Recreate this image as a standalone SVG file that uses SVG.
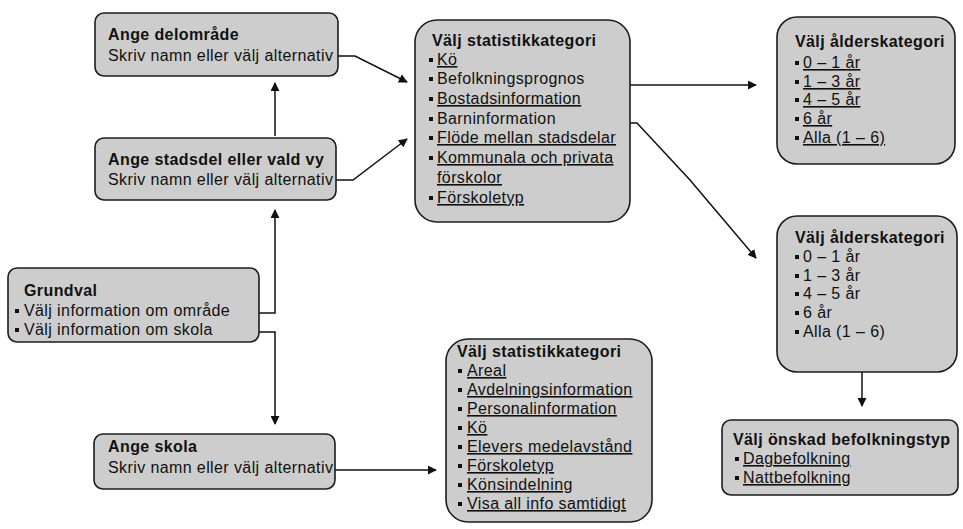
<svg xmlns="http://www.w3.org/2000/svg" xmlns:xlink="http://www.w3.org/1999/xlink" width="963" height="529" viewBox="0 0 963 529">
  <style>
    .box { fill: #cdcdcd; stroke: #1c1c1c; stroke-width: 1.6; }
    text { font-family: "Liberation Sans", Arial, sans-serif; font-size: 16px; fill: #111; letter-spacing: 0.4px; }
    .h { font-weight: bold; }
    .u { text-decoration: underline; }
    .conn { fill: none; stroke: #111; stroke-width: 1.5; marker-end: url(#arrow); }
  </style>
  <defs>
    <marker id="arrow" viewBox="0 0 10 10" refX="9" refY="5" markerWidth="9" markerHeight="9" markerUnits="userSpaceOnUse" orient="auto">
      <path d="M0,0 L10,5 L0,10 z" fill="#111"/>
    </marker>
    <rect id="bl" width="4" height="4" fill="#111"/>
  </defs>

  <rect width="963" height="529" fill="#ffffff"/>

  <!-- connectors -->
  <g id="connectors">
    <polyline class="conn" points="333,56 355,56 407,82"/>
    <polyline class="conn" points="333,180 353,180 407,139"/>
    <polyline class="conn" points="275,136 275,83"/>
    <polyline class="conn" points="252,313 275,313 275,210"/>
    <polyline class="conn" points="252,332 275,332 275,424"/>
    <polyline class="conn" points="332,470 436,470"/>
    <polyline class="conn" points="606,85 756,85"/>
    <polyline class="conn" points="606,123 637,123 690,180 756,258"/>
    <polyline class="conn" points="862,372 862,406"/>
  </g>

  <!-- area sub-district -->
  <g id="ange-delomrade">
    <rect class="box" x="95" y="13" width="243" height="63" rx="9"/>
    <text class="h" x="108" y="40">Ange delområde</text>
    <text x="108" y="61">Skriv namn eller välj alternativ</text>
  </g>

  <!-- city district / view -->
  <g id="ange-stadsdel">
    <rect class="box" x="95" y="138" width="241" height="62" rx="9"/>
    <text class="h" x="108" y="165">Ange stadsdel eller vald vy</text>
    <text x="108" y="185">Skriv namn eller välj alternativ</text>
  </g>

  <!-- basic choice -->
  <g id="grundval">
    <rect class="box" x="8" y="268" width="251" height="74" rx="9"/>
    <text class="h" x="24" y="296">Grundval</text>
    <use href="#bl" x="15" y="309"/>
    <text x="24" y="316">Välj information om område</text>
    <use href="#bl" x="15" y="328"/>
    <text x="24" y="335">Välj information om skola</text>
  </g>

  <!-- school -->
  <g id="ange-skola">
    <rect class="box" x="94" y="434" width="241" height="55" rx="9"/>
    <text class="h" x="108" y="452">Ange skola</text>
    <text x="108" y="473">Skriv namn eller välj alternativ</text>
  </g>

  <!-- statistics categories for areas -->
  <g id="statistik-omrade">
    <rect class="box" x="415" y="20" width="215" height="202" rx="22"/>
    <text class="h" x="432" y="46">Välj statistikkategori</text>
    <use href="#bl" x="429" y="58"/>
    <text class="u" x="437" y="65">Kö</text>
    <use href="#bl" x="429" y="77"/>
    <text x="437" y="84">Befolkningsprognos</text>
    <use href="#bl" x="429" y="97"/>
    <text class="u" x="437" y="104">Bostadsinformation</text>
    <use href="#bl" x="429" y="117"/>
    <text x="437" y="124">Barninformation</text>
    <use href="#bl" x="429" y="136"/>
    <text class="u" x="437" y="143">Flöde mellan stadsdelar</text>
    <use href="#bl" x="429" y="156"/>
    <text class="u" x="437" y="163">Kommunala och privata</text>
    <text class="u" x="437" y="183">förskolor</text>
    <use href="#bl" x="429" y="196"/>
    <text class="u" x="437" y="203">Förskoletyp</text>
  </g>

  <!-- statistics categories for schools -->
  <g id="statistik-skola">
    <rect class="box" x="446" y="339" width="206" height="183" rx="22"/>
    <text class="h" x="457" y="357">Välj statistikkategori</text>
    <use href="#bl" x="458" y="369"/>
    <text class="u" x="467" y="376">Areal</text>
    <use href="#bl" x="458" y="388"/>
    <text class="u" x="467" y="395">Avdelningsinformation</text>
    <use href="#bl" x="458" y="407"/>
    <text class="u" x="467" y="414">Personalinformation</text>
    <use href="#bl" x="458" y="426"/>
    <text class="u" x="467" y="433">Kö</text>
    <use href="#bl" x="458" y="445"/>
    <text class="u" x="467" y="452">Elevers medelavstånd</text>
    <use href="#bl" x="458" y="464"/>
    <text class="u" x="467" y="471">Förskoletyp</text>
    <use href="#bl" x="458" y="483"/>
    <text class="u" x="467" y="490">Könsindelning</text>
    <use href="#bl" x="458" y="502"/>
    <text class="u" x="467" y="509">Visa all info samtidigt</text>
  </g>

  <!-- age categories (linked) -->
  <g id="alder-1">
    <rect class="box" x="777" y="17" width="178" height="147" rx="20"/>
    <text class="h" x="795" y="47">Välj ålderskategori</text>
    <use href="#bl" x="795" y="61"/>
    <text class="u" x="803" y="68">0 – 1 år</text>
    <use href="#bl" x="795" y="80"/>
    <text class="u" x="803" y="87">1 – 3 år</text>
    <use href="#bl" x="795" y="98"/>
    <text class="u" x="803" y="105">4 – 5 år</text>
    <use href="#bl" x="795" y="117"/>
    <text class="u" x="803" y="124">6 år</text>
    <use href="#bl" x="795" y="136"/>
    <text class="u" x="803" y="143">Alla (1 – 6)</text>
  </g>

  <!-- age categories (plain) -->
  <g id="alder-2">
    <rect class="box" x="777" y="216" width="180" height="156" rx="20"/>
    <text class="h" x="795" y="243">Välj ålderskategori</text>
    <use href="#bl" x="795" y="255"/>
    <text x="803" y="262">0 – 1 år</text>
    <use href="#bl" x="795" y="274"/>
    <text x="803" y="281">1 – 3 år</text>
    <use href="#bl" x="795" y="292"/>
    <text x="803" y="299">4 – 5 år</text>
    <use href="#bl" x="795" y="311"/>
    <text x="803" y="318">6 år</text>
    <use href="#bl" x="795" y="330"/>
    <text x="803" y="337">Alla (1 – 6)</text>
  </g>

  <!-- population type -->
  <g id="befolkningstyp">
    <rect class="box" x="722" y="420" width="236" height="75" rx="9"/>
    <text class="h" x="733" y="445">Välj önskad befolkningstyp</text>
    <use href="#bl" x="735" y="457"/>
    <text class="u" x="743" y="464">Dagbefolkning</text>
    <use href="#bl" x="735" y="476"/>
    <text class="u" x="743" y="483">Nattbefolkning</text>
  </g>
</svg>
